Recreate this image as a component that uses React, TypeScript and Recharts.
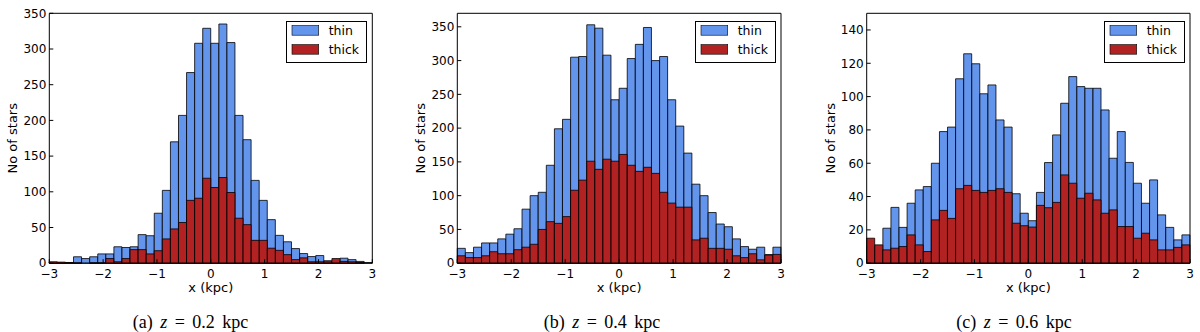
import React from 'react';
import { BarChart, Bar, XAxis, YAxis, Legend } from 'recharts';

// ---------- data ----------
const binCenters = [
  -2.925, -2.775, -2.625, -2.475, -2.325, -2.175, -2.025, -1.875, -1.725, -1.575,
  -1.425, -1.275, -1.125, -0.975, -0.825, -0.675, -0.525, -0.375, -0.225, -0.075,
  0.075, 0.225, 0.375, 0.525, 0.675, 0.825, 0.975, 1.125, 1.275, 1.425,
  1.575, 1.725, 1.875, 2.025, 2.175, 2.325, 2.475, 2.625, 2.775, 2.925,
];

const xTicks = [-3, -2, -1, 0, 1, 2, 3];
const yTicksA = [0, 50, 100, 150, 200, 250, 300, 350];
const yTicksB = [0, 50, 100, 150, 200, 250, 300, 350];
const yTicksC = [0, 20, 40, 60, 80, 100, 120, 140];

// (a) z = 0.2 kpc
const thinA = [
  1, 1, 1, 9, 6.5, 9, 13, 13, 23, 22,
  23, 40, 38.5, 70, 102, 170, 207, 267, 308, 329,
  308, 335, 309, 207, 173, 116, 88, 61, 39, 30,
  20.5, 13.5, 9.3, 10.7, 3.5, 3, 7, 5, 2.5, 1,
];
const thickA = [
  2, 1.5, 1, 0.5, 0, 0.5, 0.5, 6.5, 2, 6.5,
  19, 19, 13, 17.5, 34, 48, 57, 88, 91, 119,
  106, 120, 99, 63, 54, 32, 32, 21, 18, 12,
  5, 7.5, 2, 2, 2, 6.5, 2.5, 2, 1, 0,
];

// (b) z = 0.4 kpc
const thinB = [
  22, 15.7, 23.7, 30, 30, 36, 43, 51, 80, 100,
  105, 145, 199, 213, 305, 306, 353, 348, 308, 242,
  259, 303, 324, 349, 300, 306, 242, 203, 163, 117,
  100, 75, 58, 54, 36, 24.6, 20.7, 23.7, 12.8, 23.7,
];
const thickB = [
  11, 8.3, 8.3, 11, 17, 14, 14, 20, 23.7, 28,
  50, 61.5, 59, 69, 108, 123, 151, 139, 154, 151,
  161, 145, 136, 142, 133, 105, 89, 83, 83, 34.5,
  37, 22, 22, 20.7, 11, 8.3, 14, 5, 12, 13,
];

// (c) z = 0.6 kpc
const thinC = [
  10, 8, 21, 33.5, 21.5, 36, 44, 46, 60, 79,
  81.7, 110.7, 125.7, 119.7, 101.7, 107, 86, 81.7, 41.7, 30,
  25.5, 42.5, 60.4, 77, 96, 112, 106, 105, 105, 92,
  63, 79, 60.5, 48, 36, 50, 29, 21.5, 14, 17,
];
const thickC = [
  15, 11, 8, 9, 10, 17, 11, 7, 26, 31.7,
  26.9, 44.7, 46.7, 43.7, 42.5, 43.7, 44.7, 42.5, 24, 22.5,
  21.7, 34.7, 33.3, 36.5, 53, 48, 39, 42, 38, 30,
  32, 22, 22, 15, 18, 14, 8, 8, 9.5, 11,
];

const seriesNames = ['thin', 'thick'];
const xLabel = 'x (kpc)';
const yLabel = 'No of stars';
const captionTags = ['(a)', '(b)', '(c)'];
const captionValues = ['0.2', '0.4', '0.6'];

// ---------- style ----------
const BLUE = '#6495ED';
const RED = '#B22222';
const SANS = '"DejaVu Sans", sans-serif';
const SERIF = '"Liberation Serif", "DejaVu Serif", serif';

const fmt = (v: number) => (v < 0 ? '\u2212' + Math.abs(v) : String(v));

function buildRows(thin: number[], thick: number[]) {
  return binCenters.map((x, i) => ({ x, thin: thin[i], thick: thick[i] }));
}

const LegendBox = () => (
  <svg width={81} height={42} style={{ display: 'block' }}>
    <rect x={0.5} y={0.5} width={80} height={41} fill="#fff" stroke="#000" strokeWidth={1} />
    <rect x={6} y={4.6} width={26.7} height={9.6} fill={BLUE} stroke="#000" strokeWidth={0.6} />
    <rect x={6} y={23.6} width={26.7} height={9.6} fill={RED} stroke="#000" strokeWidth={0.6} />
    <text x={42.7} y={14} fontFamily={SANS} fontSize={12.5} fill="#000">{seriesNames[0]}</text>
    <text x={42.7} y={33} fontFamily={SANS} fontSize={12.5} fill="#000">{seriesNames[1]}</text>
  </svg>
);

type PanelProps = {
  left: number;
  plotLeft: number;
  plotRight: number;
  yMax: number;
  yTicks: number[];
  thin: number[];
  thick: number[];
};

const CH = 300;
const PLOT_TOP = 13.3;
const PLOT_BOTTOM = 263.2;

function Panel({ left, plotLeft, plotRight, yMax, yTicks, thin, thick }: PanelProps) {
  const data = buildRows(thin, thick);
  const W = 400;
  const margin = {
    left: plotLeft - 1,
    right: W - plotRight - 1,
    top: PLOT_TOP - 1,
    bottom: CH - PLOT_BOTTOM - 1,
  };
  const axisCommon = {
    stroke: '#000',
    axisLine: { stroke: '#000', strokeWidth: 1 },
    tickLine: { stroke: '#000', strokeWidth: 1 },
  };
  return (
    <div style={{ position: 'absolute', left, top: 0, width: W, height: CH }}>
      <BarChart
        width={W}
        height={CH}
        data={data}
        margin={margin}
        barCategoryGap={0}
        barGap={0}
      >
        <XAxis
          xAxisId="num"
          type="number"
          dataKey="x"
          domain={[-3, 3]}
          allowDataOverflow
          ticks={xTicks}
          interval={0}
          height={1}
          tickSize={-4}
          tickMargin={10}
          tickFormatter={fmt}
          tick={{ fill: '#000', fontFamily: SANS, fontSize: 12 }}
          {...axisCommon}
          label={{
            content: (p: any) => {
              const vb = p.viewBox || {};
              return (
                <text
                  x={vb.x + vb.width / 2}
                  y={vb.y + 28.5}
                  textAnchor="middle"
                  fontFamily={SANS}
                  fontSize={13}
                  fill="#000"
                >
                  {xLabel}
                </text>
              );
            },
          }}
        />
        <XAxis xAxisId="c1" dataKey="x" type="category" hide height={0} />
        <XAxis xAxisId="c2" dataKey="x" type="category" hide height={0} />
        <YAxis yAxisId="l" type="number" domain={[0, yMax]} hide width={0} />
        <Bar
          xAxisId="c1"
          yAxisId="l"
          dataKey="thin"
          name={seriesNames[0]}
          fill={BLUE}
          stroke="#000"
          strokeWidth={0.8}
          isAnimationActive={false}
        />
        <Bar
          xAxisId="c2"
          yAxisId="l"
          dataKey="thick"
          name={seriesNames[1]}
          fill={RED}
          stroke="#000"
          strokeWidth={0.8}
          isAnimationActive={false}
        />
        <XAxis
          xAxisId="top"
          orientation="top"
          type="number"
          dataKey="x"
          domain={[-3, 3]}
          allowDataOverflow
          ticks={xTicks}
          interval={0}
          height={1}
          tickSize={-4}
          tick={false}
          {...axisCommon}
        />
        <YAxis
          yAxisId="axl"
          type="number"
          domain={[0, yMax]}
          allowDataOverflow
          ticks={yTicks}
          interval={0}
          width={1}
          tickSize={-4}
          tickMargin={7}
          tickFormatter={fmt}
          tick={{ fill: '#000', fontFamily: SANS, fontSize: 12 }}
          {...axisCommon}
          label={{
            content: (p: any) => {
              const vb = p.viewBox || {};
              const cx = vb.x + vb.width - 36.6;
              const cy = vb.y + vb.height / 2;
              return (
                <text
                  x={cx}
                  y={cy}
                  transform={`rotate(-90, ${cx}, ${cy})`}
                  textAnchor="middle"
                  dominantBaseline="central"
                  fontFamily={SANS}
                  fontSize={13}
                  fill="#000"
                >
                  {yLabel}
                </text>
              );
            },
          }}
        />
        <YAxis
          yAxisId="axr"
          orientation="right"
          type="number"
          domain={[0, yMax]}
          allowDataOverflow
          ticks={yTicks}
          interval={0}
          width={1}
          tickSize={-4}
          tick={false}
          {...axisCommon}
        />
        <Legend
          layout="vertical"
          align="center"
          verticalAlign="middle"
          wrapperStyle={{
            left: plotRight - 5 - 81,
            top: 20.5,
            width: 81,
            height: 42,
            right: 'auto',
            bottom: 'auto',
          }}
          content={() => <LegendBox />}
        />
      </BarChart>
    </div>
  );
}

const captionCenters = [190.5, 602, 1014];

export default function App() {
  return (
    <div
      style={{
        position: 'absolute',
        left: 0,
        top: 0,
        width: 1200,
        height: 332,
        background: '#fff',
        overflow: 'hidden',
      }}
    >
      <Panel left={0} plotLeft={49.3} plotRight={372.3} yMax={350} yTicks={yTicksA} thin={thinA} thick={thickA} />
      <Panel left={400} plotLeft={57.3} plotRight={381} yMax={370} yTicks={yTicksB} thin={thinB} thick={thickB} />
      <Panel left={800} plotLeft={66.7} plotRight={390} yMax={150} yTicks={yTicksC} thin={thinC} thick={thickC} />
      <svg
        width={1200}
        height={32}
        style={{ position: 'absolute', left: 0, top: 300, display: 'block' }}
      >
        {captionTags.map((tag, i) => (
          <text
            key={tag}
            x={captionCenters[i]}
            y={27.5}
            textAnchor="middle"
            fontFamily={SERIF}
            fontSize={18}
            fill="#000"
            style={{ wordSpacing: '3px' }}
          >
            {tag}{' '}
            <tspan fontStyle="italic">z</tspan>
            {' = ' + captionValues[i] + ' kpc'}
          </text>
        ))}
      </svg>
    </div>
  );
}
